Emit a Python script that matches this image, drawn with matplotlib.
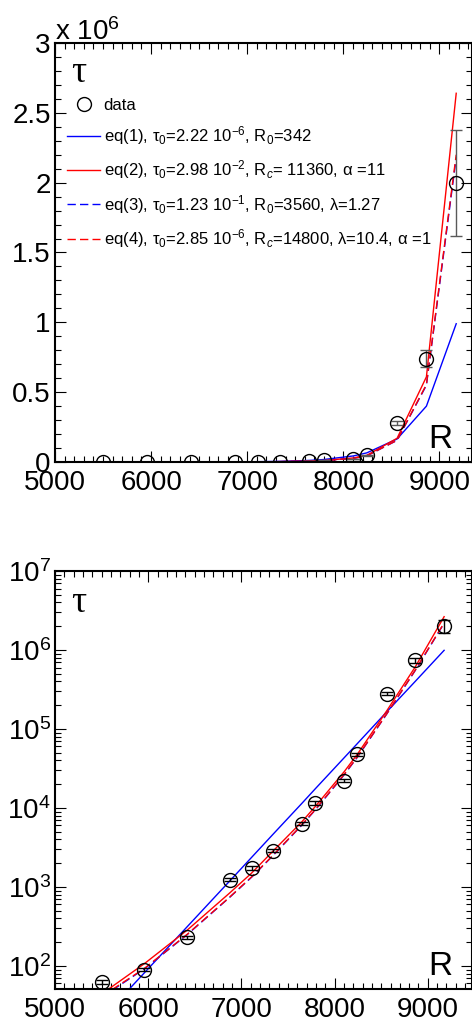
import numpy as np
import matplotlib.pyplot as plt
from matplotlib.lines import Line2D
from matplotlib.ticker import MultipleLocator, FuncFormatter, LogLocator, NullFormatter

plt.rcParams['font.family'] = ['Liberation Sans', 'DejaVu Sans']
plt.rcParams['mathtext.fontset'] = 'custom'
plt.rcParams['mathtext.rm'] = 'Liberation Sans'
plt.rcParams['mathtext.it'] = 'Liberation Sans:italic'
plt.rcParams['mathtext.bf'] = 'Liberation Sans:bold'
plt.rcParams['axes.formatter.useoffset'] = False

# data
R = [5500, 5960, 6420, 6875, 7110, 7340, 7645, 7795, 8105, 8245, 8560, 8865, 9175]
tau = [63, 90, 230, 1240, 1740, 2860, 6300, 11600, 22000, 48000, 2.8e5, 7.4e5, 2.0e6]
tau_err = [4, 5, 12, 60, 80, 130, 300, 550, 1000, 2200, 1.2e4, 6.0e4, 3.8e5]

# fitted curves, values at the data points
eq1 = [21.4, 82, 315, 1190, 2370, 4650, 11300, 17600, 43500, 65500, 1.65e5, 4.0e5, 9.9e5]
eq2 = [44, 107, 285, 840, 1500, 2850, 6600, 10500, 29000, 48000, 1.7e5, 6.1e5, 2.64e6]
eq3 = [40, 92, 250, 740, 1330, 2500, 6000, 9500, 26500, 44000, 1.55e5, 5.5e5, 2.18e6]
eq4 = [41, 93, 252, 745, 1340, 2520, 6050, 9600, 26800, 44500, 1.56e5, 5.55e5, 2.2e6]

labels = [
    'data',
    r'eq(1), τ$_0$=2.22 10$^{-6}$, R$_0$=342',
    r'eq(2), τ$_0$=2.98 10$^{-2}$, R$_c$= 11360, α =11',
    r'eq(3), τ$_0$=1.23 10$^{-1}$, R$_0$=3560, λ=1.27',
    r'eq(4), τ$_0$=2.85 10$^{-6}$, R$_c$=14800, λ=10.4, α =1',
]

W, H = 472, 1023
fig = plt.figure(figsize=(W / 100, H / 100), dpi=100)
ax1 = fig.add_axes([55 / W, 1 - 462 / H, 417 / W, 419 / H])
ax2 = fig.add_axes([55 / W, 1 - 989 / H, 417 / W, 418 / H])


def draw(ax, ecolor):
    ax.plot(R, eq1, color='#0000ff', lw=1)
    ax.plot(R, eq2, color='#ff0000', lw=1)
    ax.plot(R, eq3, color='#0000ff', lw=1, dashes=(6, 3))
    ax.plot(R, eq4, color='#ff0000', lw=1, dashes=(6, 3), dash_capstyle='butt')
    ax.errorbar(R, tau, yerr=tau_err, fmt='none', ecolor=ecolor, elinewidth=1,
                capsize=4, capthick=1)
    ax.plot(R, tau, 'o', ms=10, mfc='none', mec='black', mew=1)


def style(ax):
    for s in ax.spines.values():
        s.set_linewidth(1.5)
    ax.xaxis.set_major_locator(MultipleLocator(1000))
    ax.xaxis.set_minor_locator(MultipleLocator(100))
    ax.tick_params(which='both', direction='in', top=True, right=True,
                   width=0.8, labelsize=20)
    ax.tick_params(which='major', length=8)
    ax.tick_params(which='minor', length=4)
    ax.tick_params(axis='x', pad=6)
    ax.tick_params(axis='y', pad=3)


# linear panel
draw(ax1, '0.35')
style(ax1)
ax1.set_xlim(5000, 5000 + 417 / 0.0961)
ax1.set_ylim(0, 3e6)
ax1.yaxis.set_major_locator(MultipleLocator(0.5e6))
ax1.yaxis.set_minor_locator(MultipleLocator(0.1e6))
ax1.yaxis.set_major_formatter(FuncFormatter(lambda v, p: f'{v / 1e6:g}'))
fig.text(55 / W, 1 - 40 / H, r'x 10$^{6}$', fontsize=20, ha='left', va='baseline')

handles = [Line2D([], [], ls='none', marker='o', ms=10, mfc='none', mec='black'),
           Line2D([], [], color='#0000ff', lw=1),
           Line2D([], [], color='#ff0000', lw=1),
           Line2D([], [], color='#0000ff', lw=1, dashes=(6, 3)),
           Line2D([], [], color='#ff0000', lw=1, dashes=(6, 3))]
ax1.legend(handles, labels, loc='upper left', bbox_to_anchor=(67 / W, 1 - 98 / H),
           bbox_transform=fig.transFigure, frameon=False, fontsize=12,
           handlelength=2.0, handletextpad=0.2, borderpad=0, borderaxespad=0,
           labelspacing=0.68)

# log panel
draw(ax2, 'black')
style(ax2)
ax2.set_yscale('log')
ax2.set_xlim(5000, 5000 + 417 / 0.0932)
ax2.set_ylim(51, 1e7)
ax2.yaxis.set_major_locator(LogLocator(base=10, numticks=10))
ax2.yaxis.set_minor_locator(LogLocator(base=10, subs=np.arange(2, 10), numticks=10))
ax2.yaxis.set_minor_formatter(NullFormatter())

for ytop, ybase in [(73, 448), (603, 975)]:
    fig.text(71 / W, 1 - ytop / H, 'τ', fontsize=27, family=['Liberation Serif', 'DejaVu Serif'],
             ha='left', va='center')
    fig.text(428 / W, 1 - ybase / H, 'R', fontsize=24, ha='left', va='baseline')

fig.savefig('out.png', dpi=100)
